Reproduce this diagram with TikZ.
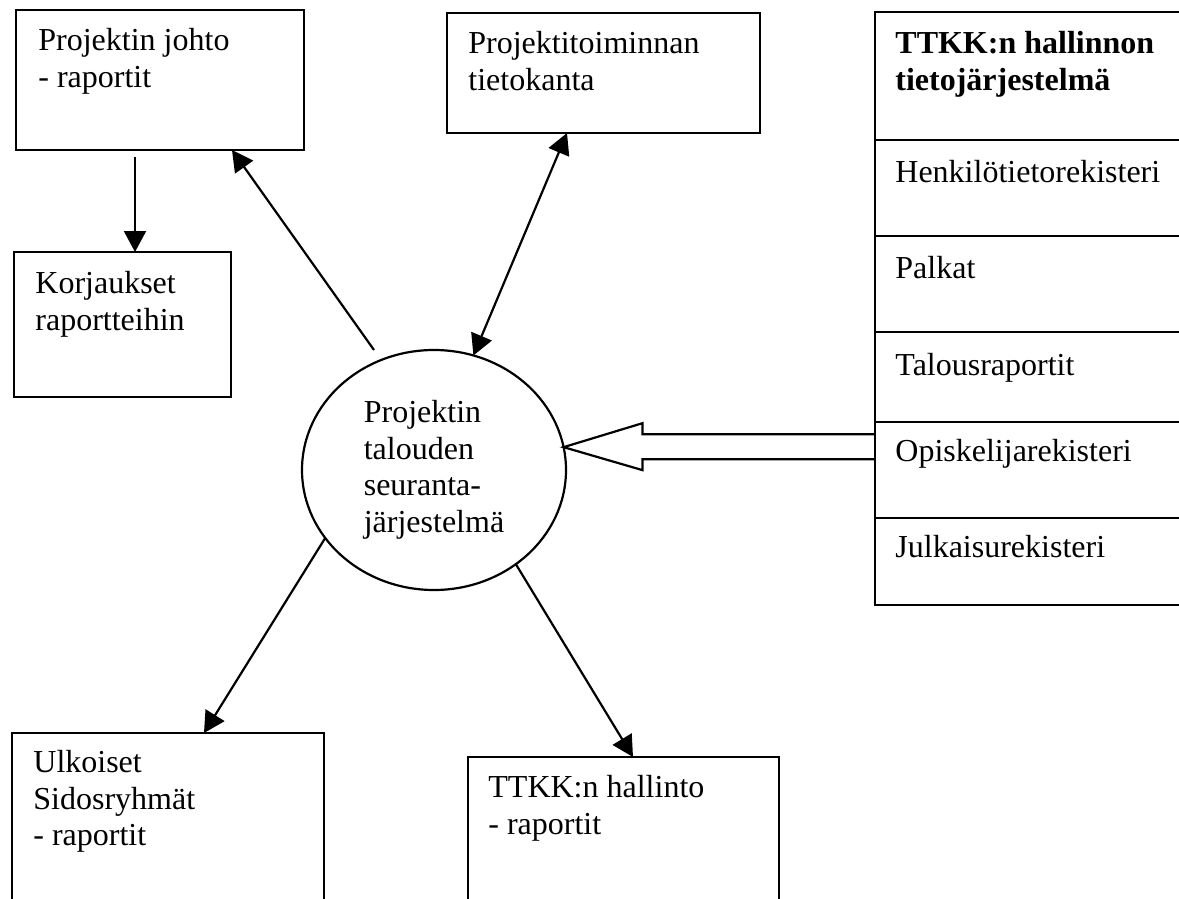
\documentclass[tikz,border=0pt]{standalone}
\usepackage{fontspec}
\setmainfont{Liberation Serif}
\usetikzlibrary{arrows.meta,calc,shapes.geometric}

\begin{document}
\begin{tikzpicture}[x=0.5pt,y=-0.5pt,
  box/.style={draw,line width=1.1pt,rectangle,inner sep=0pt,outer sep=0pt,anchor=north west},
  lbl/.style={inner sep=0pt,anchor=north west,align=left,font=\fontsize{16}{18.3}\selectfont},
  tip/.style={Triangle[length=10.5pt,width=11pt]},
  arr/.style={line width=1.1pt,-{Triangle[length=10.5pt,width=11pt]}},
  biarr/.style={line width=1.1pt,{Triangle[length=10.5pt,width=11pt]}-{Triangle[length=10.5pt,width=11pt]}},
  hub/.style={draw,ellipse,line width=1.1pt,inner sep=0pt,outer sep=0pt,
    minimum width=132pt,minimum height=120pt,align=left,font=\fontsize{16}{18.3}\selectfont},
  hollow/.style={line width=1.1pt,line join=miter}
]
\useasboundingbox (0,0) rectangle (1179,899);

% reporting boxes
\node[box,minimum width=144pt,minimum height=70pt] (johto) at (16,10) {};
\node[lbl] (johtoT) at ($(johto.north west)+(22,18)$) {Projektin johto\\- raportit};

\node[box,minimum width=108.5pt,minimum height=72.5pt] (korj) at (14,252) {};
\node[lbl] (korjT) at ($(korj.north west)+(21,19)$) {Korjaukset\\raportteihin};

\node[box,minimum width=156.5pt,minimum height=60pt] (tieto) at (447,13) {};
\node[lbl] (tietoT) at ($(tieto.north west)+(21,18)$) {Projektitoiminnan\\tietokanta};

\node[box,minimum width=156pt,minimum height=100pt] (ulk) at (12,733) {};
\node[lbl] (ulkT) at ($(ulk.north west)+(21,17)$) {Ulkoiset\\Sidosryhmät\\- raportit};

\node[box,minimum width=155.5pt,minimum height=100pt] (hall) at (468,757) {};
\node[lbl] (hallT) at ($(hall.north west)+(20,18)$) {TTKK:n hallinto\\- raportit};

% administration information system column
\node[box,minimum width=157.5pt,minimum height=64pt] (sys) at (875,12) {};
\node[lbl] (sysT) at ($(sys.north west)+(20,19)$) {\textbf{TTKK:n hallinnon}\\\textbf{tietojärjestelmä}};
\node[box,minimum width=157.5pt,minimum height=48pt] (henk) at (875,140) {};
\node[lbl] (henkT) at ($(henk.north west)+(20,20)$) {Henkilötietorekisteri};
\node[box,minimum width=157.5pt,minimum height=48pt] (palk) at (875,236) {};
\node[lbl] (palkT) at ($(palk.north west)+(20,20)$) {Palkat};
\node[box,minimum width=157.5pt,minimum height=45pt] (talous) at (875,332) {};
\node[lbl] (talousT) at ($(talous.north west)+(20,21)$) {Talousraportit};
\node[box,minimum width=157.5pt,minimum height=48pt] (opis) at (875,422) {};
\node[lbl] (opisT) at ($(opis.north west)+(20,17)$) {Opiskelijarekisteri};
\node[box,minimum width=157.5pt,minimum height=43.5pt] (julk) at (875,518) {};
\node[lbl] (julkT) at ($(julk.north west)+(20,17)$) {Julkaisurekisteri};

% central system
\node[hub] (hub) at (434,470) {Projektin\\talouden\\seuranta-\\järjestelmä};

% connectors
\coordinate (johtoTail) at (374,350);
\draw[arr] ($(johto.south west)+(119,7)$) -- ($(korj.north west)+(121,0)$);
\draw[arr] (johtoTail) -- ($(johto.south west)+(216,0)$);
\draw[biarr] (hub.71.7) -- ($(tieto.south west)+(120,0)$);
\draw[arr] (hub.212.7) -- ($(ulk.north west)+(192,0)$);
\draw[arr] (hub.311.4) -- ($(hall.north west)+(165,0)$);

% hollow block arrow from the register column into the system
\draw[hollow] (hub.10) ++(311,-13) -- ++(-232,0) -- ++(0,-11) -- (hub.10)
  -- ++(79,23) -- ++(0,-11) -- ++(232,0);
\end{tikzpicture}
\end{document}
